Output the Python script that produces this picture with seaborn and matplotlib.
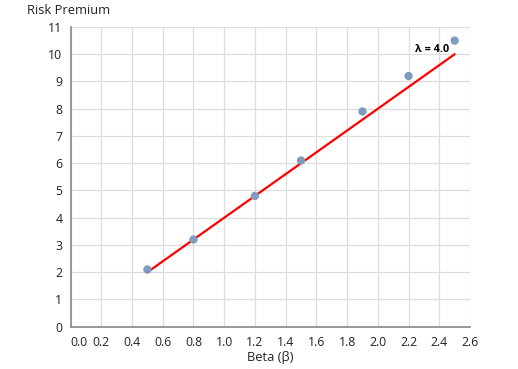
import matplotlib
matplotlib.use("Agg")
import matplotlib.pyplot as plt
import matplotlib.transforms as mtransforms
import seaborn as sns
import pandas as pd
import numpy as np

beta = [0.5, 0.8, 1.2, 1.5, 1.9, 2.2, 2.5]
premium = [2.1, 3.2, 4.8, 6.1, 7.9, 9.2, 10.5]
line_x = [0.5, 2.5]
lam = 4.0
line_y = [lam * v for v in line_x]
x_ticks = [0.0, 0.2, 0.4, 0.6, 0.8, 1.0, 1.2, 1.4, 1.6, 1.8, 2.0, 2.2, 2.4, 2.6]
y_ticks = list(range(0, 12))

sns.set_style("white")
plt.rcParams['font.family'] = ['Open Sans', 'DejaVu Sans']

fig = plt.figure(figsize=(5.18, 3.69), dpi=100)
ax = fig.add_axes([70.6/518, 1 - 326.7/369, (470-70.6)/518, (326.7-27)/369])

df = pd.DataFrame({"beta": beta, "premium": premium})
dl = pd.DataFrame({"x": line_x, "y": line_y})

ax.set_xlim(0, 2.6)
ax.set_ylim(0, 11)
ax.set_xticks(x_ticks)
ax.set_yticks(y_ticks)
ax.set_xticklabels([f"{v:.1f}" for v in x_ticks], fontsize=8.8)
ax.set_yticklabels([str(v) for v in y_ticks], fontsize=8.8)

ax.grid(True, color="#dddddd", linewidth=0.9)
ax.set_axisbelow(True)

sns.lineplot(data=dl, x="x", y="y", ax=ax, color="#ff0000", linewidth=1.6, zorder=2)
sns.scatterplot(data=df, x="beta", y="premium", ax=ax, color="#7f9cc0", s=36,
                edgecolor="none", zorder=3)

ax.text(2.35, 10.17, f"λ = {lam:.1f}", fontsize=7.8, fontweight="bold",
        ha="center", va="center", color="#000000")

for s in ["top", "right"]:
    ax.spines[s].set_visible(False)
for s in ["left", "bottom"]:
    ax.spines[s].set_color("#888888")
    ax.spines[s].set_linewidth(1.2)
ax.tick_params(axis="both", which="both", length=4, color="#888888", direction="out",
               pad=2, labelcolor="#222222")
ax.tick_params(axis="x", pad=3)

# first x tick label shifted right as in reference
first = ax.get_xticklabels()[0]
first.set_transform(first.get_transform() + mtransforms.ScaledTranslation(8/100, 0, fig.dpi_scale_trans))

ax.set_xlabel("Beta (β)", fontsize=9.3, labelpad=1, color="#222222")
ax.set_ylabel("")
fig.text(27/518, 1 - 10/369, "Risk Premium", fontsize=9.3, ha="left", va="center", color="#222222")

fig.savefig("out.png", dpi=100)
